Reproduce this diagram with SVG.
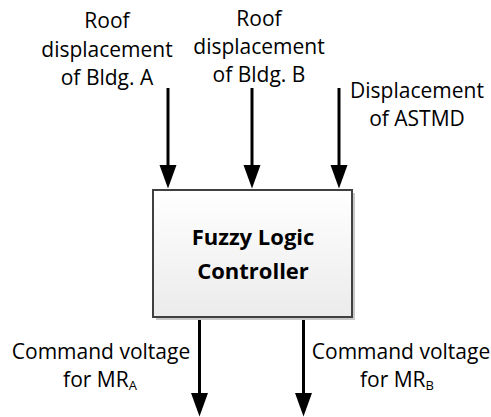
<svg xmlns="http://www.w3.org/2000/svg" width="491" height="417" viewBox="0 0 491 417">
  <style>
    .lbl { font-family: "Open Sans", "Liberation Sans", sans-serif; font-size: 21px; fill: #000; text-anchor: middle; }
    .title { font-family: "Open Sans", "Liberation Sans", sans-serif; font-size: 22px; font-weight: bold; fill: #000; text-anchor: middle; }
    .sub { font-size: 13px; }
    .conn { stroke: #000; stroke-width: 3; fill: none; marker-end: url(#arrow); }
  </style>
  <defs>
    <linearGradient id="boxfill" x1="0" y1="0" x2="0" y2="1">
      <stop offset="0" stop-color="#ffffff"/>
      <stop offset="1" stop-color="#ebebeb"/>
    </linearGradient>
    <marker id="arrow" markerUnits="userSpaceOnUse" markerWidth="24" markerHeight="18" refX="0" refY="8.5" orient="auto" overflow="visible">
      <path d="M0,0 L23.5,8.5 L0,17 z" fill="#000"/>
    </marker>
  </defs>
  <rect width="491" height="417" fill="#ffffff"/>

  <g id="connectors">
    <line class="conn" x1="168" y1="88" x2="168" y2="165"/>
    <line class="conn" x1="252" y1="88" x2="252" y2="165"/>
    <line class="conn" x1="339" y1="88" x2="339" y2="165"/>
    <line class="conn" x1="199.5" y1="317" x2="199.5" y2="393"/>
    <line class="conn" x1="303.5" y1="317" x2="303.5" y2="393"/>
  </g>

  <g id="flc">
    <rect x="156" y="193" width="199" height="127" fill="#c8c8c8"/>
    <rect x="153" y="190" width="199" height="127" fill="url(#boxfill)" stroke="#404040" stroke-width="2"/>
    <text class="title" x="253" y="245">Fuzzy Logic</text>
    <text class="title" x="253" y="279">Controller</text>
  </g>

  <g id="in-a">
    <text class="lbl" x="107" y="28">Roof</text>
    <text class="lbl" x="107" y="57">displacement</text>
    <text class="lbl" x="107" y="85">of Bldg. A</text>
  </g>
  <g id="in-b">
    <text class="lbl" x="259" y="26">Roof</text>
    <text class="lbl" x="259" y="54">displacement</text>
    <text class="lbl" x="259" y="82">of Bldg. B</text>
  </g>
  <g id="in-astmd">
    <text class="lbl" x="417" y="98">Displacement</text>
    <text class="lbl" x="417" y="126">of ASTMD</text>
  </g>
  <g id="out-a">
    <text class="lbl" x="101" y="359">Command voltage</text>
    <text class="lbl" x="100" y="387">for MR<tspan class="sub" dy="3">A</tspan></text>
  </g>
  <g id="out-b">
    <text class="lbl" x="401" y="359">Command voltage</text>
    <text class="lbl" x="397" y="387">for MR<tspan class="sub" dy="3">B</tspan></text>
  </g>
</svg>
